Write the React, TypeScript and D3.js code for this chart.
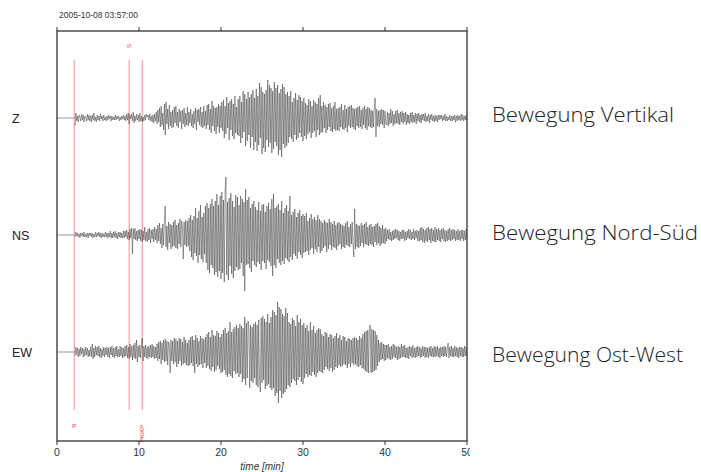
import React from "react";
import * as d3 from "d3";

const TITLE = "2005-10-08 03:57:00";
const X_TICKS = [0, 10, 20, 30, 40, 50];
const X_LABEL = "time [min]";
const CHANNELS = ["Z", "NS", "EW"];
const DESCRIPTIONS = ["Bewegung Vertikal", "Bewegung Nord-Süd", "Bewegung Ost-West"];
const PICK_NAMES = ["P", "S", "PKiKP"];
const PICK_TIMES = [2.1, 8.8, 10.4];
const T_START = 2.2;
const T_STEP = 0.1;

// successive peaks/troughs of each trace (approx. amplitude, positive = up), every 0.1 min from 2.2 min
const Z_TRACE = [
  -8, 5, -3, 2, -4, 3, 1, -3, 4, -2, 3, -4, 2, 0, -3, 4, -2, 3, -3, 2,
  -4, 3, -2, 5, -3, 1, -4, 3, -2, 2, -3, 4, -1, 2, -3, 3, -2, 1, -3, 2,
  -2, 3, -1, 2, -3, 2, -2, 1, -2, 3, -2, 2, -1, 2, -3, 1, -2, 2, -1, 3,
  -2, 2, -3, 4, -2, 5, -6, 3, -1, 4, -3, 6, -5, 2, -3, 4, -2, 3, -4, 5,
  -3, 2, -4, 1, -3, 3, -2, 4, 1, 3, -2, 4, -3, 2, -4, 3, -5, 4, -3, 6,
  -6, 8, -4, 10, -9, 12, -7, 5, -12, 14, -17, 16, -6, 9, -11, 13, -8, 6, -10, 8,
  -9, 11, -5, 12, -8, 6, -10, 9, -4, 7, -11, 8, -6, 10, -9, 5, -7, 11, -8, 6,
  -5, 9, -8, 4, -10, 7, -6, 10, -12, 8, -4, 9, -7, 11, -9, 6, -10, 12, -8, 7,
  -11, 13, -7, 14, -12, 9, -15, 17, -8, 12, -13, 10, -16, 11, -9, 14, -15, 12, -10, 16,
  -13, 18, -20, 12, -16, 21, -10, 15, -22, 17, -12, 19, -18, 14, -21, 22, -15, 11, -17, 19,
  -18, 22, -25, 16, -20, 27, -14, 24, -28, 19, -23, 26, -17, 21, -30, 24, -19, 28, -32, 20,
  -24, 29, -33, 22, -27, 35, -20, 31, -36, 26, -30, 24, -34, 28, -22, 38, -29, 33, -25, 30,
  -35, 27, -31, 36, -24, 30, -28, 33, -37, 25, -32, 29, -39, 34, -26, 31, -30, 24, -28, 26,
  -25, 22, -19, 27, -21, 16, -24, 20, -17, 25, -22, 18, -20, 23, -15, 21, -19, 17, -23, 20,
  -18, 15, -21, 13, -16, 19, -14, 17, -20, 12, -15, 18, -13, 16, -19, 14, -12, 20, -17, 23,
  -15, 12, -14, 16, -10, 13, -15, 11, -12, 14, -9, 15, -13, 10, -14, 12, -11, 16, -13, 9,
  -12, 10, -13, 11, -9, 14, -11, 8, -12, 13, -10, 9, -14, 11, -8, 12, -10, 13, -9, 10,
  -11, 9, -12, 10, -8, 11, -10, 12, -9, 8, -11, 10, -7, 12, -10, 9, -12, 11, -8, 10,
  -9, 8, -10, 7, -9, 11, 20, -19, 9, -8, 7, -9, 8, -6, 9, -7, 8, -10, 7, -6,
  -7, 6, -8, 5, -6, 9, -5, 7, -8, 4, -6, 7, -5, 8, -6, 5, -7, 6, -4, 7,
  -6, 5, -4, 6, -7, 4, -5, 3, -6, 5, -4, 6, -5, 3, -4, 5, -6, 4, -3, 5,
  -4, 3, -5, 4, -2, 4, -3, 5, -4, 2, -3, 4, -5, 3, -2, 4, -3, 2, -4, 3,
  -3, 2, -4, 3, -2, 3, -1, 3, -3, 2, -2, 4, -3, 2, -3, 1, -2, 3, -3, 2,
  -3, 2, -2, 3, -4, 2, -3, 3, -2, 2, -3, 4, -2, 3, -3, 2, -2, 3, -2,
];

const NS_TRACE = [
  -2, 3, -1, 2, -2, 1, -3, 2, -1, 2, -2, 3, -2, 1, -2, 2, -3, 2, -1, 2,
  -2, 2, -3, 1, -2, 3, -2, 2, -1, 3, -2, 2, -3, 2, -2, 1, -2, 3, -2, 2,
  -3, 2, -2, 4, -3, 2, -3, 3, -2, 4, -3, 2, -4, 3, -2, 3, -3, 2, -3, 4,
  -3, 4, -2, 5, -4, 3, -5, 6, -3, 7, -19, 6, -4, 7, -5, 4, -6, 5, -4, 6,
  -6, 5, -7, 4, -5, 8, -6, 3, -7, 6, -5, 7, -8, 5, -4, 6, -7, 8, -5, 6,
  -8, 10, -6, 12, -9, 7, -13, 11, -10, 14, 29, -12, 9, -15, 13, -8, 11, -14, 10, -12,
  13, -11, 15, -13, 10, -14, 12, -9, 16, -12, 14, 8, -24, 13, -10, 15, -12, 14, -11, 17,
  -16, 20, -22, 15, -25, 19, -18, 27, -21, 17, -28, 24, -20, 30, -24, 18, -27, 22, -19, 29,
  -28, 32, -35, 27, -38, 31, -30, 36, -33, 29, -40, 34, -37, 41, -42, 30, -36, 39, -44, 43,
  -38, 35, -47, 44, 58, -40, 33, -45, 37, -31, 42, -39, 34, -43, 28, -36, 40, -32, 38, -35,
  30, -34, 39, -28, 36, -41, 33, -56, 46, -30, 35, -29, 38, -33, 27, -37, 31, -26, 34, -30,
  28, -32, 25, -27, 33, -29, 24, -35, 30, -26, 31, -28, 23, -34, 29, -25, 32, -27, 26, -31,
  36, -41, 41, -30, 27, -33, 29, -24, 31, -28, 25, -30, 34, -26, 22, -29, 27, -23, 30, -25,
  24, -27, 39, -22, 20, -25, 23, -19, 26, -21, 18, -24, 22, -17, 25, -20, 19, -23, 21, -18,
  19, -17, 22, -16, 14, -20, 17, -15, 21, -13, 16, -19, 18, -14, 15, -17, 20, -12, 16, -18,
  14, -16, 12, -13, 15, -11, 13, -17, 12, -14, 16, -10, 13, -15, 11, -12, 14, -13, 10, -15,
  12, -11, 13, -9, 11, -14, 10, -12, 9, -13, 12, -10, 14, -11, 8, -12, 11, -9, 13, -10,
  -22, 26, -14, 11, -12, 10, -13, 9, -11, 12, -8, 10, -12, 11, -9, 13, -10, 8, -11, 10,
  -9, 11, -10, 8, -12, 9, -7, 11, -10, 12, -8, 9, -11, 7, -9, 10, -8, 6, -9, 7,
  -6, 5, -4, 6, -5, 3, -6, 4, -5, 5, -4, 6, -3, 5, -5, 4, -6, 3, -4, 5,
  -4, 5, -6, 3, -5, 4, -3, 6, -4, 5, -5, 3, -4, 6, -5, 4, -3, 5, -6, 4,
  -6, 7, -5, 8, -7, 6, -8, 5, -6, 7, -7, 8, -5, 6, -8, 7, -6, 5, -7, 8,
  -7, 6, -5, 7, -6, 5, -7, 6, -4, 7, -6, 5, -7, 4, -6, 6, -5, 7, -6, 5,
  -5, 6, -4, 5, -6, 4, -5, 6, -5, 4, -6, 5, -4, 5, -6, 4, -5, 6, -4,
];

const EW_TRACE = [
  -4, 5, -3, 4, -5, 3, -4, 5, -2, 4, -5, 3, -4, 5, -3, 4, -5, 2, -4, 5,
  -5, 8, -7, 4, -5, 6, -3, 5, -4, 6, -5, 4, -6, 3, -4, 5, -5, 4, -3, 5,
  -5, 4, -6, 5, -3, 6, -5, 4, -6, 5, -4, 6, -5, 3, -5, 6, -4, 5, -6, 4,
  -5, 6, -4, 7, -6, 5, -7, 8, -5, 6, -8, 7, -6, 9, -7, 12, -10, 6, -5, 7,
  -6, 8, 14, -9, 6, -5, 7, -6, 5, -7, 6, -5, 7, -6, 8, -5, 6, -7, 5, -6,
  8, -9, 10, -7, 11, -12, 9, -8, 12, -10, 13, -9, 11, -13, 10, 6, -21, 12, -9, 11,
  -12, 14, -10, 13, -15, 11, -12, 14, -9, 13, -14, 10, -12, 15, -11, 12, -13, 9, -14, 12,
  -13, 15, -11, 16, -14, 12, -21, 17, -12, 14, -15, 11, -13, 16, -12, 14, -16, 13, -11, 15,
  -16, 18, -14, 20, -17, 15, -19, 22, -15, 17, -20, 16, -18, 21, -14, 19, -17, 15, -21, 18,
  -20, 22, -18, 24, -23, 19, -25, 21, -22, 30, -24, 20, -26, 23, -19, 25, -22, 27, -21, 24,
  -25, 28, -22, 26, -30, 24, -27, 35, -33, 29, -26, 31, 22, -36, 27, -29, 25, -31, 28, -26,
  30, -33, 27, -35, 32, -29, -40, 34, -31, 36, -28, 33, -37, 30, -34, 38, -32, 29, -36, 35,
  -38, 42, -36, 40, -44, 37, -41, 50, -51, 45, -39, 43, -46, 38, -42, 36, -40, 44, -37, 39,
  -33, 30, -35, 28, -31, 34, -27, 32, -29, 26, -33, 37, -28, 30, -25, 33, -30, 27, -32, 29,
  -26, 24, -22, 27, -25, 21, -23, 30, -24, 22, -20, 26, -23, 19, -25, 22, -21, 24, -19, 23,
  -20, 18, -21, 16, -18, 20, -15, 19, -17, 15, -19, 18, -16, 17, -20, 14, -18, 16, -15, 19,
  -16, 14, -13, 17, -15, 12, -14, 16, -12, 15, -13, 11, -16, 14, -12, 13, -15, 12, -11, 14,
  -13, 15, -12, 14, -14, 12, -15, 16, -13, 14, -16, 18, -17, 20, -19, 21, -20, 22, -21, 24,
  27, -21, 23, -20, 22, -19, 21, -18, 17, -14, 12, -10, 9, -8, 10, -7, 8, -9, 7, -8,
  7, -6, 8, -7, 5, -8, 6, -7, 8, -5, 7, -6, 5, -8, 6, -7, 5, -6, 8, -5,
  6, -5, 7, -6, 4, -6, 5, -7, 6, -4, 5, -6, 7, -5, 4, -6, 5, -5, 6, -4,
  5, -6, 4, -5, 6, -4, 5, -6, 5, -5, 4, -6, 5, -4, 6, -5, 4, -5, 6, -5,
  5, -4, 6, -5, 4, -6, 5, -4, 5, -5, 6, -4, 5, -5, 4, 9, -6, 5, -4, 6,
  -5, 4, -5, 6, -4, 5, -5, 4, -6, 5, -4, 5, -5, 4, -5, 6, -4, 5, -4,
];

const TRACES = [Z_TRACE, NS_TRACE, EW_TRACE];

export default function App() {
  const W = 701, H = 472;
  const left = 57, right = 467, top = 31, bottom = 441;
  const x = d3.scaleLinear().domain([0, 50]).range([left, right]);
  const yBase = d3.scalePoint<string>().domain(CHANNELS).range([118, 352]);
  const amp = d3.scaleLinear().domain([-50, 50]).range([50, -50]);

  const lineFor = (vals: number[], base: number) =>
    d3.line<number>()
      .x((_, i) => x(T_START + i * T_STEP))
      .y((v) => base + amp(v))(vals) as string;

  const descWidths = [182, 206, 191];
  const descBaselines = [122, 240, 362];

  return (
    <svg width={W} height={H} style={{ position: "absolute", left: 0, top: 0, background: "#fff" }}
      fontFamily="'Liberation Sans', Arial, sans-serif">
      <defs>
        <clipPath id="clipR"><rect x={0} y={0} width={470} height={H} /></clipPath>
      </defs>
      <rect x={0} y={0} width={W} height={H} fill="#fff" />
      <text x={59} y={18} fontSize={8.5} fill="#333">{TITLE}</text>

      {/* pick lines */}
      {PICK_TIMES.map((t, i) => (
        <line key={"pk" + i} x1={x(t)} x2={x(t)} y1={60} y2={410} stroke="#ff8080" strokeWidth={0.9} />
      ))}
      <text transform={`translate(${x(PICK_TIMES[1]) + 2},48) rotate(-90)`} fontSize={6} fill="#ff3030">{PICK_NAMES[1]}</text>
      <text x={x(PICK_TIMES[0]) - 2} y={428} fontSize={6} fill="#ff3030">{PICK_NAMES[0]}</text>
      <text transform={`translate(${x(PICK_TIMES[2]) + 2},442) rotate(-90)`} fontSize={6} fill="#ff3030">{PICK_NAMES[2]}</text>

      {/* traces */}
      {CHANNELS.map((c, k) => {
        const base = yBase(c) as number;
        return (
          <g key={c}>
            <line x1={x(0)} x2={x(T_START)} y1={base} y2={base} stroke="#999" strokeWidth={1} />
            <path d={lineFor(TRACES[k], base)} fill="none" stroke="#333" strokeWidth={0.6} strokeOpacity={0.8} />
            <text x={12} y={base + 4.5} fontSize={12.5} fill="#222">{c}</text>
            <text x={492} y={descBaselines[k]} fontSize={20} fill="#222" fontWeight={300}
              fontFamily="'Open Sans', 'Noto Sans', sans-serif"
              textLength={descWidths[k]} lengthAdjust="spacingAndGlyphs">{DESCRIPTIONS[k]}</text>
          </g>
        );
      })}

      {/* frame */}
      <rect x={left} y={top} width={right - left} height={bottom - top} fill="none" stroke="#333" strokeWidth={1.3} />
      {X_TICKS.map((t) => (
        <g key={"t" + t}>
          <line x1={x(t)} x2={x(t)} y1={top} y2={top - 4} stroke="#333" strokeWidth={1} />
          <line x1={x(t)} x2={x(t)} y1={bottom} y2={bottom + 4} stroke="#333" strokeWidth={1} />
        </g>
      ))}
      <g clipPath="url(#clipR)">
        {X_TICKS.map((t) => (
          <text key={"l" + t} x={x(t)} y={456} fontSize={10.5} textAnchor="middle" fill="#333">{t}</text>
        ))}
      </g>
      <text x={x(25)} y={470} fontSize={10} fontStyle="italic" textAnchor="middle" fill="#333">{X_LABEL}</text>
    </svg>
  );
}
